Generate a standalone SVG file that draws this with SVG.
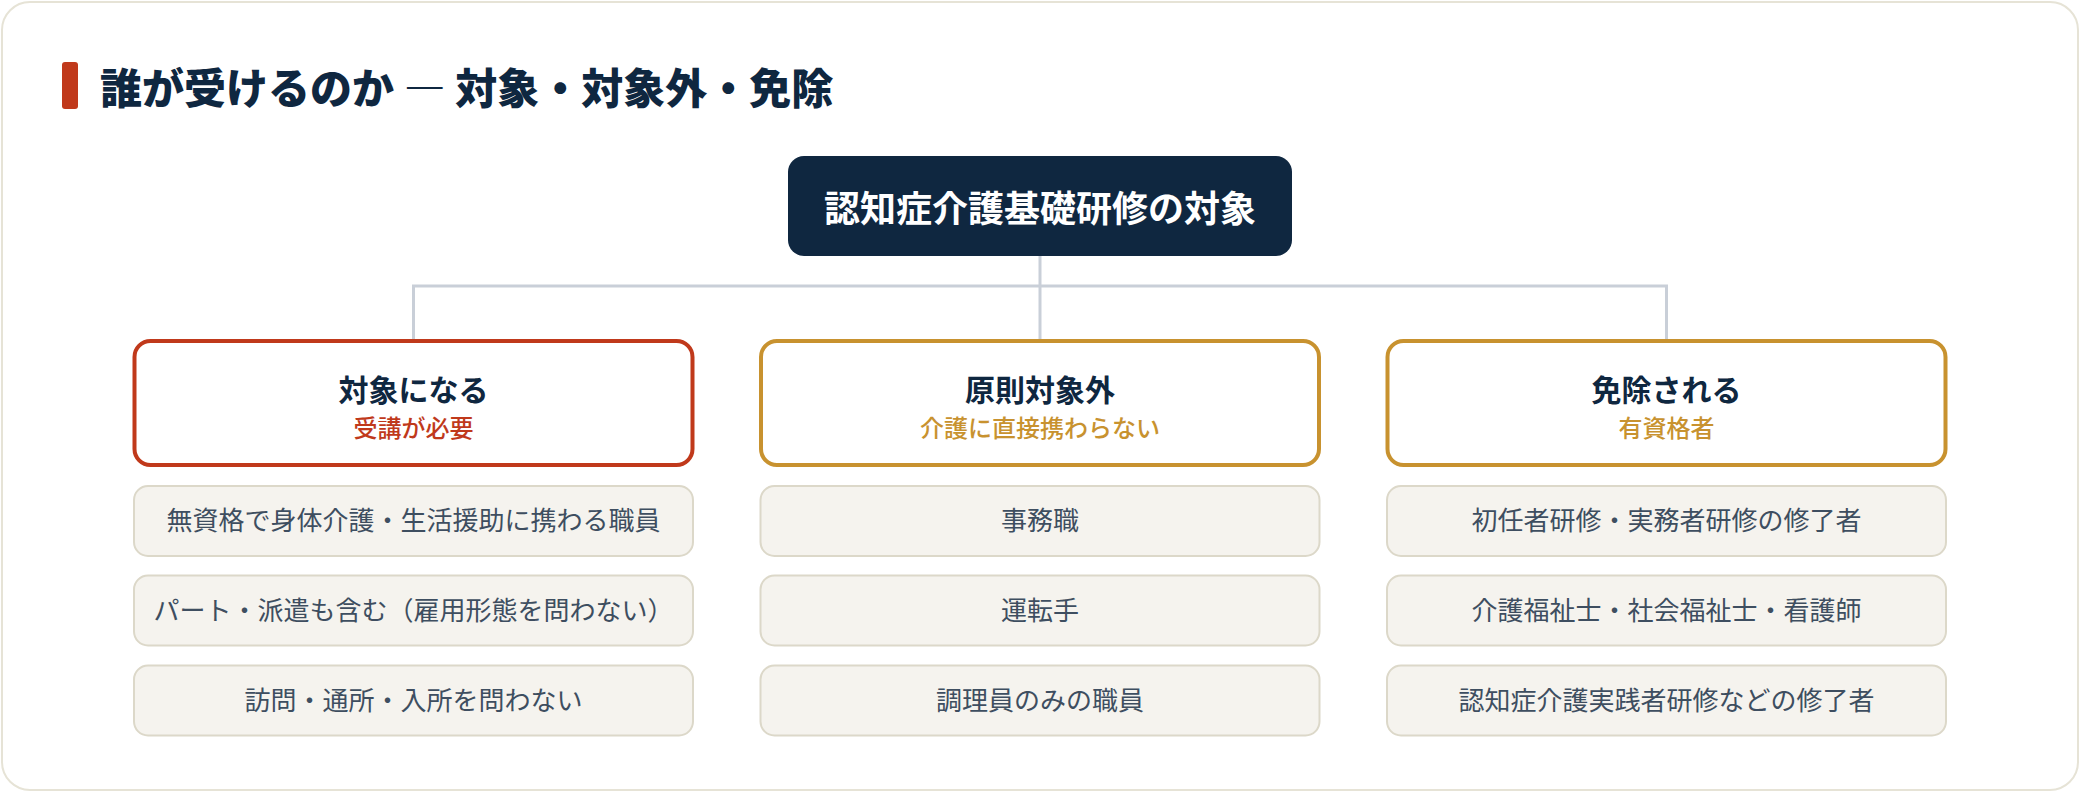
<svg xmlns="http://www.w3.org/2000/svg" width="2080" height="792" viewBox="0 0 2080 792">
<style>
text{font-family:"Noto Sans CJK JP","Noto Sans",sans-serif;}
.title{font-size:42px;font-weight:900;fill:#0f2740;}
.dash{font-feature-settings:"fwid";}
.root{font-size:36px;font-weight:700;fill:#ffffff;}
.hd{font-size:30px;font-weight:700;fill:#0f2740;}
.sub{font-size:24px;font-weight:500;}
.item{font-size:26px;font-weight:400;fill:#3e4e60;}
.ibox{fill:#f5f3ee;stroke:#dcd8c9;stroke-width:2;}
.conn{fill:none;stroke:#c9cfd8;stroke-width:3;}
</style>
<rect x="0" y="0" width="2080" height="792" fill="#ffffff"/>
<rect x="2" y="2" width="2076" height="788" rx="28" fill="#ffffff" stroke="#e6e3d6" stroke-width="2"/>
<g id="heading">
<rect x="62" y="62" width="16" height="47" rx="3" fill="#c0391b"/>
<text class="title" x="100" y="104">誰が受けるのか <tspan class="dash">—</tspan> 対象・対象外・免除</text>
</g>
<g id="connectors">
<path class="conn" d="M1040 256 V286"/>
<path class="conn" d="M413.5 341 V286 H1666.5 V341"/>
<path class="conn" d="M1040 286 V341"/>
</g>
<g id="root">
<rect x="788" y="156" width="504" height="100" rx="16" fill="#0f2740"/>
<text class="root" x="1040" y="222" text-anchor="middle">認知症介護基礎研修の対象</text>
</g>
<g id="target">
<rect x="134.5" y="341" width="558" height="124" rx="16" fill="#ffffff" stroke="#c0391b" stroke-width="4"/>
<text class="hd" x="413.5" y="401" text-anchor="middle">対象になる</text>
<text class="sub" x="413.5" y="437" text-anchor="middle" fill="#c0391b">受講が必要</text>
</g>
<g id="target-items">
<rect class="ibox" x="134" y="486" width="559" height="70" rx="14"/>
<text class="item" x="413.5" y="530" text-anchor="middle">無資格で身体介護・生活援助に携わる職員</text>
<rect class="ibox" x="134" y="575.5" width="559" height="70" rx="14"/>
<text class="item" x="413.5" y="619.5" text-anchor="middle">パート・派遣も含む（雇用形態を問わない）</text>
<rect class="ibox" x="134" y="665.5" width="559" height="70" rx="14"/>
<text class="item" x="413.5" y="709.5" text-anchor="middle">訪問・通所・入所を問わない</text>
</g>
<g id="excluded">
<rect x="761" y="341" width="558" height="124" rx="16" fill="#ffffff" stroke="#c8922f" stroke-width="4"/>
<text class="hd" x="1040" y="401" text-anchor="middle">原則対象外</text>
<text class="sub" x="1040" y="437" text-anchor="middle" fill="#c8922f">介護に直接携わらない</text>
</g>
<g id="excluded-items">
<rect class="ibox" x="760.5" y="486" width="559" height="70" rx="14"/>
<text class="item" x="1040" y="530" text-anchor="middle">事務職</text>
<rect class="ibox" x="760.5" y="575.5" width="559" height="70" rx="14"/>
<text class="item" x="1040" y="619.5" text-anchor="middle">運転手</text>
<rect class="ibox" x="760.5" y="665.5" width="559" height="70" rx="14"/>
<text class="item" x="1040" y="709.5" text-anchor="middle">調理員のみの職員</text>
</g>
<g id="exempt">
<rect x="1387.5" y="341" width="558" height="124" rx="16" fill="#ffffff" stroke="#c8922f" stroke-width="4"/>
<text class="hd" x="1666.5" y="401" text-anchor="middle">免除される</text>
<text class="sub" x="1666.5" y="437" text-anchor="middle" fill="#c8922f">有資格者</text>
</g>
<g id="exempt-items">
<rect class="ibox" x="1387" y="486" width="559" height="70" rx="14"/>
<text class="item" x="1666.5" y="530" text-anchor="middle">初任者研修・実務者研修の修了者</text>
<rect class="ibox" x="1387" y="575.5" width="559" height="70" rx="14"/>
<text class="item" x="1666.5" y="619.5" text-anchor="middle">介護福祉士・社会福祉士・看護師</text>
<rect class="ibox" x="1387" y="665.5" width="559" height="70" rx="14"/>
<text class="item" x="1666.5" y="709.5" text-anchor="middle">認知症介護実践者研修などの修了者</text>
</g>
</svg>
